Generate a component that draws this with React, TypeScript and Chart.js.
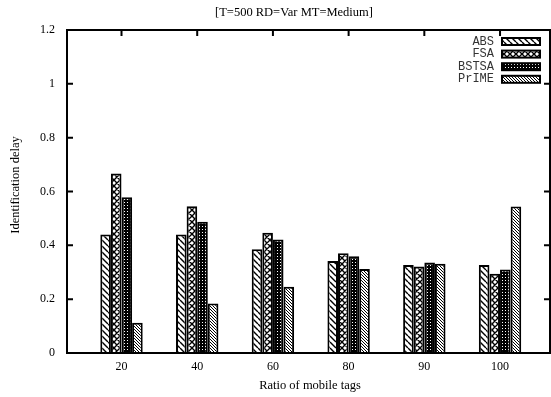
import React, { useEffect, useRef } from "react";
import { Chart, registerables } from "chart.js";

Chart.register(...registerables);

const categories = ["20", "40", "60", "80", "90", "100"];
const seriesNames = ["ABS", "FSA", "BSTSA", "PrIME"];
const absValues = [0.44, 0.44, 0.385, 0.342, 0.327, 0.327];
const fsaValues = [0.667, 0.545, 0.447, 0.371, 0.321, 0.294];
const bstsaValues = [0.579, 0.488, 0.422, 0.359, 0.336, 0.31];
const primeValues = [0.112, 0.184, 0.246, 0.312, 0.332, 0.544];
const titleText = "[T=500 RD=Var MT=Medium]";
const xTitle = "Ratio of mobile tags";
const yTitle = "Identification delay";

function makePattern(kind: string): CanvasPattern | string {
  const c = document.createElement("canvas");
  let s = 6;
  if (kind === "ABS") s = 6;
  if (kind === "FSA") s = 6;
  if (kind === "BSTSA") s = 3;
  if (kind === "PrIME") s = 3;
  c.width = s;
  c.height = s;
  const g = c.getContext("2d")!;
  g.fillStyle = "#fff";
  g.fillRect(0, 0, s, s);
  g.strokeStyle = "#000";
  g.fillStyle = "#000";
  if (kind === "ABS" || kind === "PrIME" || kind === "FSA") {
    g.lineWidth = kind === "PrIME" ? 1 : 1.4;
    g.beginPath();
    for (let k = -1; k <= 1; k++) {
      g.moveTo(k * s, 0);
      g.lineTo(k * s + s, s);
    }
    if (kind === "FSA") {
      for (let k = -1; k <= 1; k++) {
        g.moveTo(k * s + s, 0);
        g.lineTo(k * s, s);
      }
    }
    g.stroke();
  } else if (kind === "BSTSA") {
    g.fillStyle = "#000";
    g.fillRect(0, 0, s, s);
    g.fillStyle = "#fff";
    g.fillRect(1, 1, 1, 1);
  }
  const p = g.createPattern(c, "repeat");
  return p || "#888";
}

export default function App() {
  const ref = useRef<HTMLCanvasElement | null>(null);
  useEffect(() => {
    document.body.style.margin = "0";
    const canvas = ref.current!;
    const patterns = seriesNames.map((n) => makePattern(n));
    const allValues = [absValues, fsaValues, bstsaValues, primeValues];

    const framePlugin = {
      id: "frame",
      afterDraw(chart: any) {
        const ctx = chart.ctx;
        const a = chart.chartArea;
        const xs = chart.scales.x;
        const ys = chart.scales.y;
        ctx.save();
        ctx.strokeStyle = "#000";
        ctx.lineWidth = 2;
        ctx.strokeRect(a.left, a.top, a.right - a.left, a.bottom - a.top);
        ctx.beginPath();
        ys.ticks.forEach((t: any) => {
          const y = ys.getPixelForValue(t.value);
          ctx.moveTo(a.left, y);
          ctx.lineTo(a.left + 6, y);
          ctx.moveTo(a.right, y);
          ctx.lineTo(a.right - 6, y);
        });
        xs.ticks.forEach((t: any) => {
          const x = xs.getPixelForValue(t.value);
          ctx.moveTo(x, a.top);
          ctx.lineTo(x, a.top + 6);
        });
        ctx.stroke();

        // legend
        ctx.font = "12px 'Liberation Mono', monospace";
        ctx.textAlign = "right";
        ctx.textBaseline = "middle";
        seriesNames.forEach((n, i) => {
          const y = 41.5 + i * 12.6;
          ctx.fillStyle = "#333";
          ctx.fillText(n, 494, y);
          ctx.fillStyle = patterns[i] as any;
          ctx.fillRect(502, y - 3.5, 38, 7);
          ctx.lineWidth = 2;
          ctx.strokeRect(502, y - 3.5, 38, 7);
        });

        // titles
        ctx.fillStyle = "#000";
        ctx.font = "12.5px 'Liberation Serif', serif";
        ctx.textAlign = "center";
        ctx.fillText(titleText, 294, 13);
        ctx.fillText(xTitle, 310, 386);
        ctx.translate(16, 185);
        ctx.rotate(-Math.PI / 2);
        ctx.fillText(yTitle, 0, 0);
        ctx.restore();
      },
    };

    const chart = new Chart(canvas, {
      type: "bar",
      data: {
        datasets: seriesNames.map((n, i) => ({
          label: n,
          data: allValues[i].map((v, j) => ({ x: j, y: v })),
          backgroundColor: patterns[i] as any,
          borderColor: "#000",
          borderWidth: 2,
          borderSkipped: "start",
          categoryPercentage: 0.56,
          barPercentage: 1,
        })),
      },
      options: {
        animation: false,
        responsive: false,
        maintainAspectRatio: false,
        layout: { padding: { top: 30, right: 1, left: 0, bottom: 0 } },
        plugins: {
          legend: { display: false },
          title: { display: false },
          tooltip: { enabled: false },
        },
        scales: {
          x: {
            type: "linear",
            offset: false,
            min: -0.72,
            max: 5.66,
            grid: { display: false, drawTicks: false, offset: false },
            border: { display: false },
            afterBuildTicks: (scale: any) => {
              scale.ticks = categories.map((_, i) => ({ value: i }));
            },
            afterFit: (scale: any) => {
              scale.height = 44;
            },
            ticks: {
              padding: 7,
              color: "#000",
              font: { family: "'Liberation Serif', serif", size: 12 },
              callback: (v: any) => categories[v] ?? "",
              maxRotation: 0,
              autoSkip: false,
            },
          },
          y: {
            min: 0,
            max: 1.2,
            grid: { display: false, drawTicks: false },
            border: { display: false },
            afterFit: (scale: any) => {
              scale.width = 67;
            },
            ticks: {
              stepSize: 0.2,
              padding: 12,
              color: "#000",
              font: { family: "'Liberation Serif', serif", size: 12 },
              callback: (v: any) => String(Number(Number(v).toFixed(1))),
            },
          },
        },
      } as any,
      plugins: [framePlugin],
    });
    return () => chart.destroy();
  }, []);
  return (
    <div style={{ position: "absolute", left: 0, top: 0, width: 551, height: 397, background: "#fff" }}>
      <canvas ref={ref} width={551} height={397} style={{ width: 551, height: 397 }} />
    </div>
  );
}
